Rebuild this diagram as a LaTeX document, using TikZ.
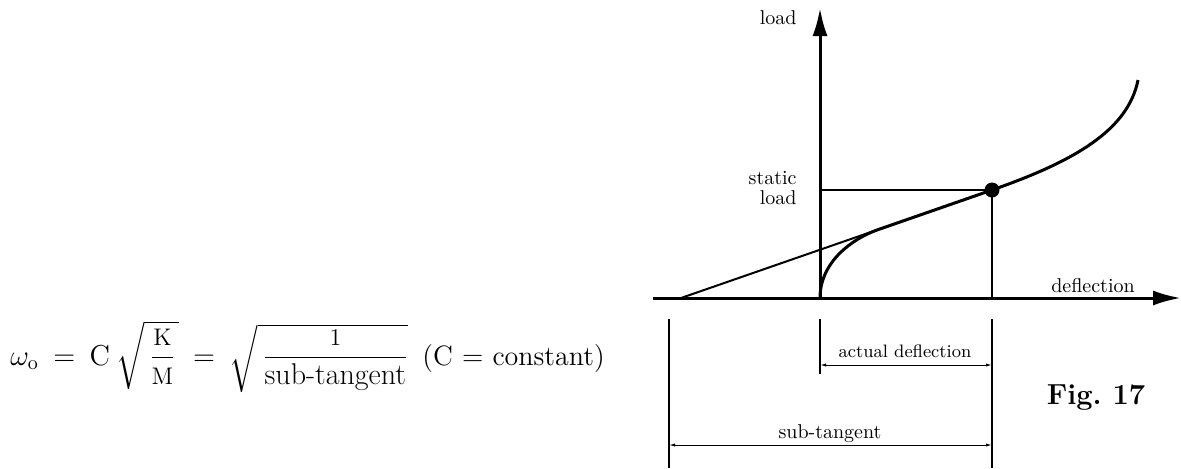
\documentclass[tikz,border=0pt]{standalone}
\usepackage{amsmath,amssymb}
\usepackage{tikz}
\usetikzlibrary{arrows.meta}

\newcommand{\fracsize}{\fontsize{12}{14}\selectfont}

\begin{document}
\begin{tikzpicture}[x=0.5pt,y=-0.5pt,
    axis/.style={line width=1.5pt,-{Latex[length=14pt,width=7.5pt]}},
    curve/.style={line width=1.5pt},
    guide/.style={line width=1pt},
    ext/.style={line width=0.7pt},
    dim/.style={line width=0.5pt,{Latex[length=3pt,width=1.6pt]}-{Latex[length=3pt,width=1.6pt]}}]
      \useasboundingbox (0,0) rectangle (1181,468);
      \coordinate (O) at (820,298);
      \coordinate (xs) at (653,298);
      \coordinate (xe) at (1181,298);
      \coordinate (ye) at (820,8);
      \coordinate (T0) at (681,298);
      \coordinate (Tp) at (877,230);
      \coordinate (P) at (992,190);
      \coordinate (E) at (1138,80);
      \draw[axis] (xs) -- (xe);
      \draw[axis] (O) -- (ye);
      \draw[guide] (T0) -- (P);
      \draw[guide] (O |- P) -- (P) -- (P |- O);
      \draw[curve] (O) .. controls (820,262) and (852,239) .. (Tp) -- (P)
          .. controls (1075,161) and (1128,130) .. (E);
      \fill (P) circle (7.5);
      \foreach \n/\x/\b in {a/669/468, b/820/374, c/992/468}{
          \coordinate (\n1) at (\x,319);
          \coordinate (\n2) at (\x,\b);
          \draw[ext] (\n1) -- (\n2);
      }
      \draw[dim] (b1 |- 0,365) -- (c1 |- 0,365);
      \draw[dim] (a1 |- 0,445) -- (c1 |- 0,445);
      \node[anchor=base east, inner sep=0pt] (load) at (797,24) {load};
      \node[anchor=east, align=right, inner sep=0pt] (static) at (797,188) {static\\[-2pt]load};
      \node[anchor=base, inner sep=0pt] (defl) at (1093,292) {deflection};
      \node[anchor=base, inner sep=0pt, font=\small] (actual) at (905,357) {actual deflection};
      \node[anchor=base, inner sep=0pt] (sub) at (830,438) {sub-tangent};
      \node[anchor=base, inner sep=0pt, font=\fontsize{14.5}{17}\selectfont\bfseries] (fig) at (1096,404) {Fig.\ 17};
      \node[anchor=base west, inner sep=0pt, font=\fontsize{14}{17}\selectfont] (formula) at (10,365)
          {\thickmuskip=9mu$\omega_{\mathrm{o}} = \mathrm{C}\mkern4mu\sqrt{\mkern3mu\dfrac{\text{\fracsize K}}{\text{\fracsize M}}\mkern2mu}
           = \sqrt{\mkern3mu\dfrac{\text{\fracsize 1}}{\text{\fontsize{15}{17}\selectfont sub-tangent}}}$\enspace(C = constant)};
  \end{tikzpicture}
\end{document}
